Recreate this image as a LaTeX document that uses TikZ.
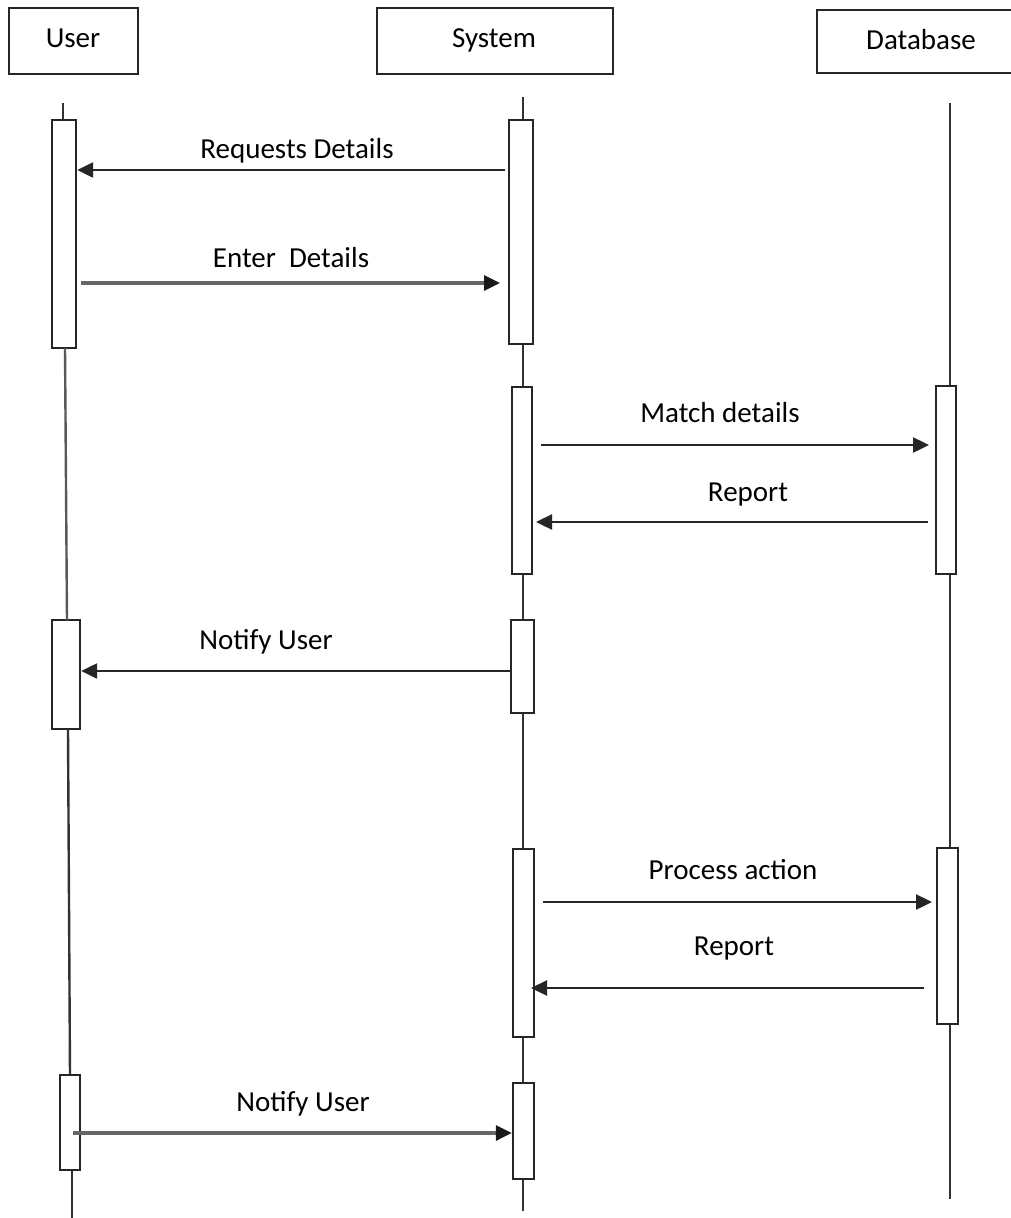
\documentclass[tikz,border=0pt]{standalone}
\usepackage{fontspec}
\setmainfont{Carlito}
\usetikzlibrary{arrows.meta,fit}
\begin{document}
\begin{tikzpicture}[x=1pt,y=-1pt,
  headbox/.style={draw=black!85, line width=2.6pt, fill=white, inner sep=0pt},
  act/.style={draw=black!85, line width=2.4pt, fill=white, inner sep=0pt},
  lbl/.style={font=\fontsize{29}{33}\selectfont, anchor=base, inner sep=0pt, text=black},
  life/.style={draw=black!80, line width=2.4pt},
  msg/.style={draw=black!85, line width=2.4pt, -{Triangle[length=16pt,width=15pt]}},
  msggray/.style={draw=black!60, line width=3.2pt, -{Triangle[length=16pt,width=15pt,color=black!90]}},
  ]
\useasboundingbox (0,0) rectangle (1011,1218);
\clip (0,0) rectangle (1011,1218);
\fill[white] (0,0) rectangle (1011,1218);

% heads
\node[headbox, fit={(9,8) (138,74)}] (user) {};
\node[headbox, fit={(377,8) (613,74)}] (system) {};
\node[headbox, fit={(817,10) (1040,73)}] (database) {};
\node[lbl] (userl) at (73,47) {User};
\node[lbl] (systeml) at (494,47) {System};
\node[lbl] (databasel) at (921,49) {Database};

% lifeline end points
\coordinate (utop) at (63,103);
\coordinate (ubot) at (72,1218);
\coordinate (stop) at (523,97);
\coordinate (sbot) at (523,1211);
\coordinate (dtop) at (950,103);
\coordinate (dbot) at (950,1199);

% activation boxes
\node[act, fit={(52,120) (76,348)}] (ua1) {};
\node[act, fit={(52,620) (80,729)}] (ua2) {};
\node[act, fit={(60,1075) (80,1170)}] (ua3) {};
\node[act, fit={(509,120) (533,344)}] (sa1) {};
\node[act, fit={(512,387) (532,574)}] (sa2) {};
\node[act, fit={(511,620) (534,713)}] (sa3) {};
\node[act, fit={(513,849) (534,1037)}] (sa4) {};
\node[act, fit={(513,1083) (534,1179)}] (sa5) {};
\node[act, fit={(936,386) (956,574)}] (da1) {};
\node[act, fit={(937,848) (958,1024)}] (da2) {};

% lifelines
\draw[life] (utop) -- (ua1.north -| utop);
\draw[life, draw=black!65] (65,348) -- (67,620);
\draw[life] (68,729) -- (70,1075);
\draw[life] (ua3.south -| ubot) -- (ubot);
\draw[life] (stop) -- (sa1.north -| stop);
\draw[life] (sa1.south -| stop) -- (sa2.north -| stop);
\draw[life] (sa2.south -| stop) -- (sa3.north -| stop);
\draw[life] (sa3.south -| stop) -- (sa4.north -| stop);
\draw[life] (sa4.south -| stop) -- (sa5.north -| stop);
\draw[life] (sa5.south -| sbot) -- (sbot);
\draw[life] (dtop) -- (da1.north -| dtop);
\draw[life] (da1.south -| dtop) -- (da2.north -| dtop);
\draw[life] (da2.south -| dtop) -- (dbot);

% message end points
\coordinate (m1a) at (505,170);
\coordinate (m2a) at (81,283);
\coordinate (m2b) at (500,283);
\coordinate (m3a) at (541,445);
\coordinate (m3b) at (929,445);
\coordinate (m4a) at (928,522);
\coordinate (m4b) at (536,522);
\coordinate (m5a) at (511,671);
\coordinate (m6a) at (543,902);
\coordinate (m6b) at (932,902);
\coordinate (m7a) at (924,988);
\coordinate (m7b) at (531,988);
\coordinate (m8a) at (73,1133);

% messages
\draw[msg] (m1a) -- (ua1.east |- m1a);
\draw[msggray] (m2a) -- (m2b);
\draw[msg] (m3a) -- (m3b);
\draw[msg] (m4a) -- (m4b);
\draw[msg] (m5a) -- (ua2.east |- m5a);
\draw[msg] (m6a) -- (m6b);
\draw[msg] (m7a) -- (m7b);
\draw[msggray] (m8a) -- (sa5.west |- m8a);

% labels
\node[lbl] (l1) at (297,158) {Requests Details};
\node[lbl] (l2) at (291,267) {Enter\ \ Details};
\node[lbl] (l3) at (720,422) {Match details};
\node[lbl] (l4) at (748,501) {Report};
\node[lbl] (l5) at (266,649) {Notify User};
\node[lbl] (l6) at (733,879) {Process action};
\node[lbl] (l7) at (734,955) {Report};
\node[lbl] (l8) at (303,1111) {Notify User};
\end{tikzpicture}
\end{document}
